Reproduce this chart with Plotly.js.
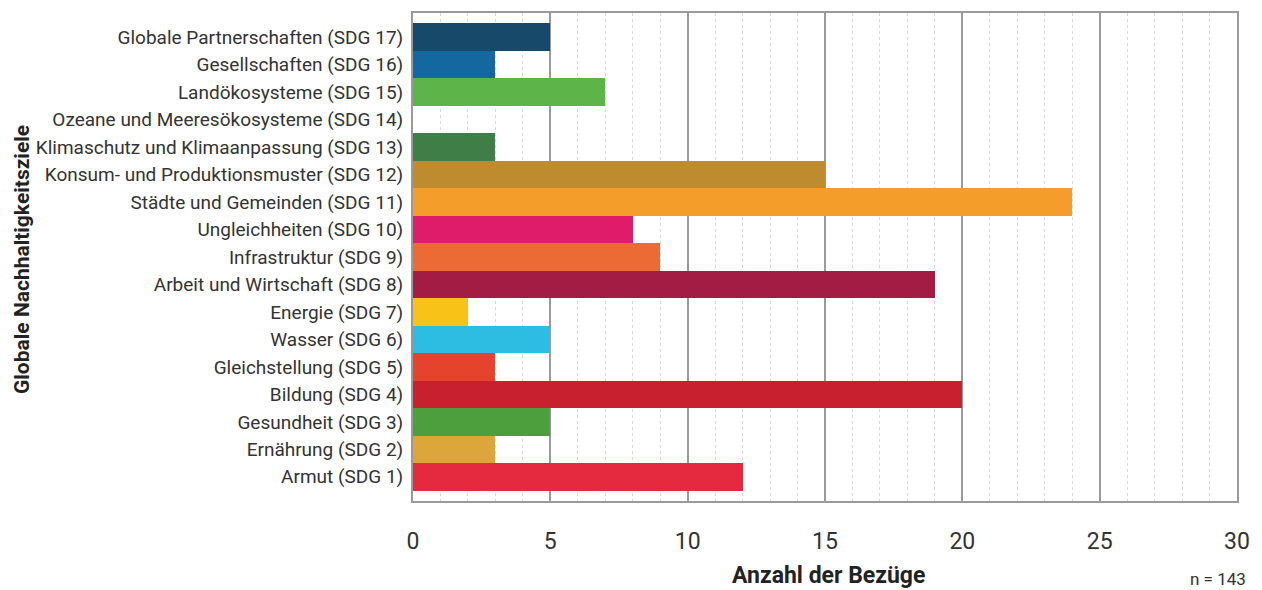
<!DOCTYPE html>
<html>
<head>
<meta charset="utf-8">
<script src="https://cdn.plot.ly/plotly-3.0.1.min.js"></script>
<style>html,body{margin:0;padding:0;background:#fff;}#chart{width:1262px;height:590px;}</style>
</head>
<body>
<div id="chart"></div>
<script>
const categories = [
  "Armut (SDG 1)",
  "Ernährung (SDG 2)",
  "Gesundheit (SDG 3)",
  "Bildung (SDG 4)",
  "Gleichstellung (SDG 5)",
  "Wasser (SDG 6)",
  "Energie (SDG 7)",
  "Arbeit und Wirtschaft (SDG 8)",
  "Infrastruktur (SDG 9)",
  "Ungleichheiten (SDG 10)",
  "Städte und Gemeinden (SDG 11)",
  "Konsum- und Produktionsmuster (SDG 12)",
  "Klimaschutz und Klimaanpassung (SDG 13)",
  "Ozeane und Meeresökosysteme (SDG 14)",
  "Landökosysteme (SDG 15)",
  "Gesellschaften (SDG 16)",
  "Globale Partnerschaften (SDG 17)"
];
const values = [12, 3, 5, 20, 3, 5, 2, 19, 9, 8, 24, 15, 3, 0, 7, 3, 5];
const colors = [
  "#E52A3F", "#DDA63A", "#4C9F3C", "#C8202F", "#E5432C", "#2DBDE3",
  "#F8C316", "#A21C44", "#EC6A34", "#DF1C6A", "#F59D2B", "#BF8B2F",
  "#3F7E46", "#0A97D9", "#5DB54A", "#13699F", "#174A6A"
];
const xTickVals = [0, 5, 10, 15, 20, 25, 30];
const xTitle = "Anzahl der Bezüge";
const yTitle = "Globale Nachhaltigkeitsziele";
const note = "n = 143";

const font = "Roboto, 'DejaVu Sans', sans-serif";

Plotly.newPlot("chart", [{
  type: "bar",
  orientation: "h",
  y: categories,
  x: values,
  marker: {color: colors, line: {width: 0}},
  hoverinfo: "none"
}], {
  width: 1262,
  height: 590,
  margin: {l: 413, r: 25, t: 13, b: 89},
  paper_bgcolor: "#fff",
  plot_bgcolor: "#fff",
  bargap: 0,
  showlegend: false,
  font: {family: font, color: "#333"},
  xaxis: {
    range: [0, 30],
    tickvals: xTickVals,
    ticks: "",
    ticklabelstandoff: 18,
    tickfont: {size: 23, color: "#333", family: font},
    showgrid: true,
    gridcolor: "#9a9a9a",
    gridwidth: 2,
    zeroline: false,
    showline: true,
    mirror: true,
    linecolor: "#9a9a9a",
    linewidth: 2,
    minor: {dtick: 1, showgrid: true, gridcolor: "#d8d8d8", griddash: "dot", gridwidth: 1},
    fixedrange: true
  },
  yaxis: {
    type: "category",
    categoryorder: "array",
    categoryarray: categories,
    range: [-0.88, 16.88],
    ticks: "",
    ticklabelstandoff: 4,
    tickfont: {size: 19, color: "#333", family: font},
    showgrid: false,
    zeroline: false,
    showline: true,
    mirror: true,
    linecolor: "#9a9a9a",
    linewidth: 2,
    fixedrange: true
  },
  annotations: [{
    text: "<b>" + xTitle + "</b>",
    xref: "paper", yref: "paper",
    x: 0.5, y: 0,
    xanchor: "center", yanchor: "middle",
    xshift: 3, yshift: -74,
    showarrow: false,
    font: {size: 23, color: "#222", family: font}
  }, {
    text: "<b>" + yTitle + "</b>",
    xref: "paper", yref: "paper",
    x: 0, y: 0.5,
    xanchor: "center", yanchor: "middle",
    xshift: -391, yshift: -3,
    textangle: -90,
    showarrow: false,
    font: {size: 21, color: "#222", family: font}
  }, {
    text: note,
    xref: "paper", yref: "paper",
    x: 1, y: 0,
    xanchor: "right", yanchor: "middle",
    xshift: 11, yshift: -78,
    showarrow: false,
    font: {size: 17, color: "#333", family: font}
  }]
}, {displayModeBar: false, staticPlot: true});
</script>
</body>
</html>
